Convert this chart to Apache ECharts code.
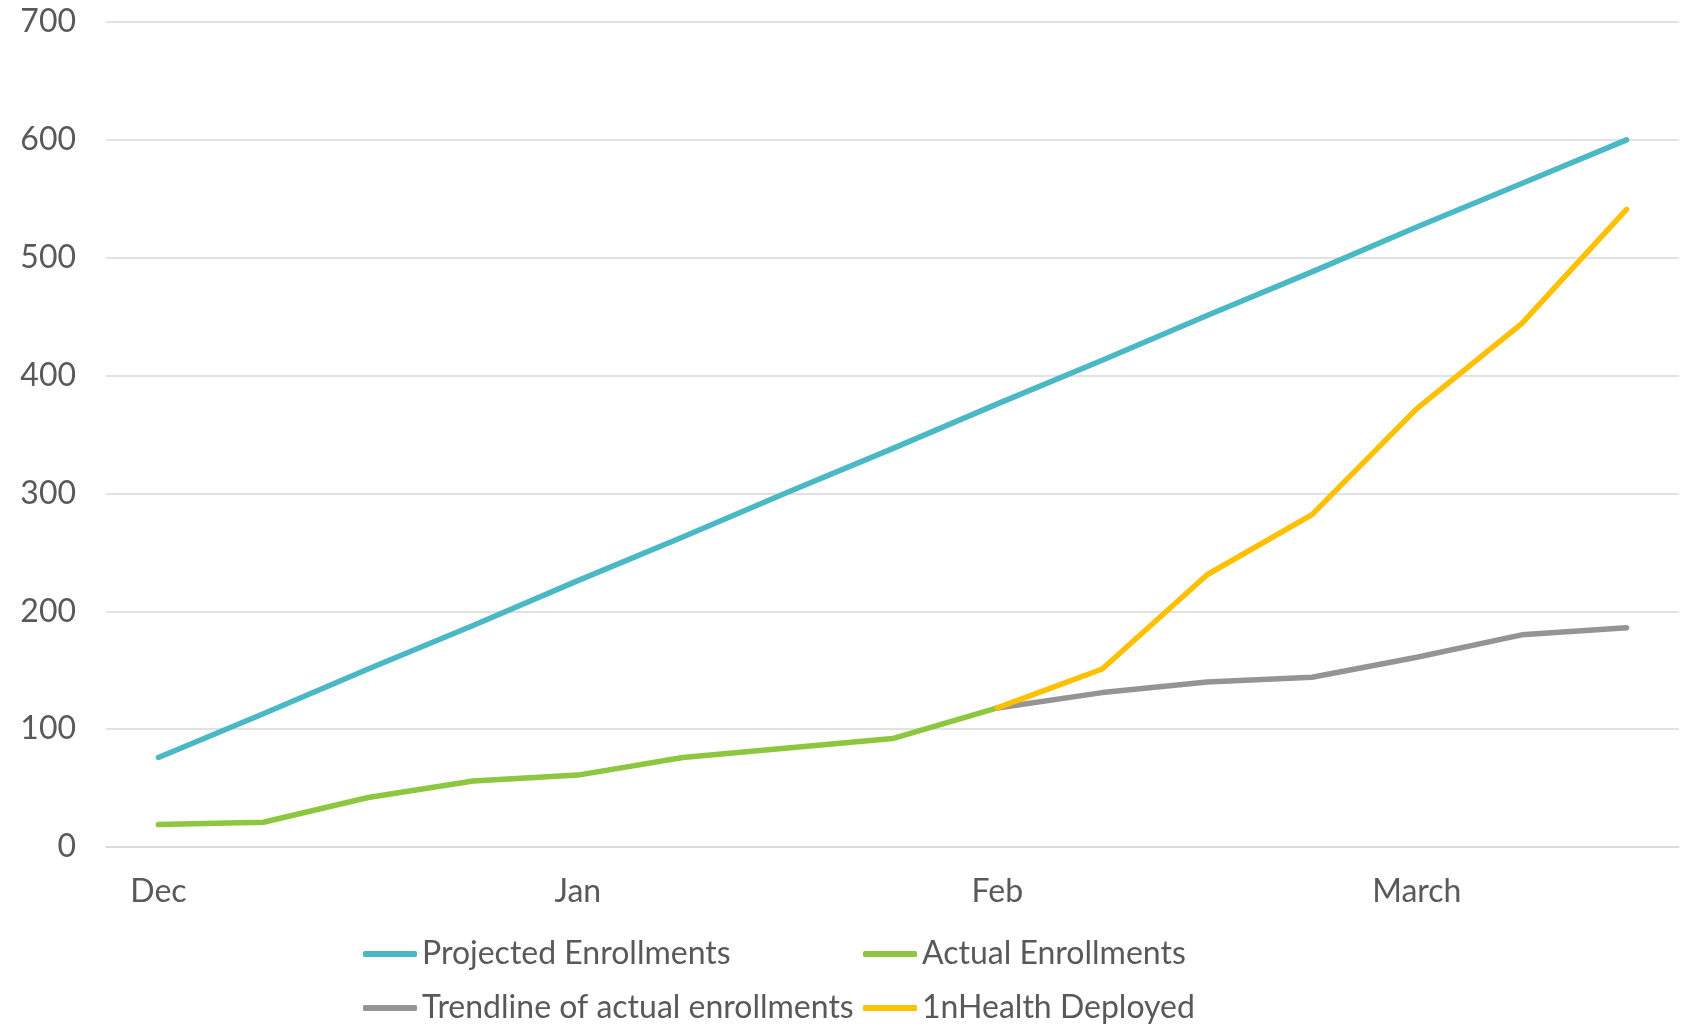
<!DOCTYPE html>
<html>
<head>
<meta charset="utf-8">
<script src="https://cdn.jsdelivr.net/npm/echarts@6/dist/echarts.min.js"></script>
<style>
html,body{margin:0;padding:0;background:#fff;}
#chart{width:1691px;height:1024px;}
</style>
</head>
<body>
<div id="chart"></div>
<script>
var categories = ['Dec','Dec w2','Dec w3','Dec w4','Jan','Jan w2','Jan w3','Jan w4','Feb','Feb w2','Feb w3','Feb w4','March','March w2','March w3'];
var projectedEnrollments = [76,113,151,188,226,263,301,338,376,413,451,488,526,563,600];
var actualEnrollments = [19,21,42,56,61,76,84,92,118,null,null,null,null,null,null];
var trendlineActual = [null,null,null,null,null,null,null,null,118,131,140,144,161,180,186];
var deployed1nHealth = [null,null,null,null,null,null,null,null,118,151,231,282,372,444,541];
var yTicks = [0,100,200,300,400,500,600,700];

var FONT = 'Lato';
var TXT = '#595959';
var FS = 32;

function lineSeries(name, data, color) {
  return {
    name: name, type: 'line', data: data, showSymbol: false, symbol: 'none',
    connectNulls: false, silent: true,
    lineStyle: { color: color, width: 5.5, cap: 'round', join: 'round' },
    itemStyle: { color: color }
  };
}

function legendBlock(left, names) {
  return {
    orient: 'vertical', left: left, top: 936, width: 500, height: 120, padding: 0, itemGap: 18,
    data: names,
    icon: 'roundRect', itemWidth: 54, itemHeight: 6,
    textStyle: { color: TXT, fontFamily: FONT, fontSize: FS, lineHeight: 36 },
    selectedMode: false
  };
}

var chart = echarts.init(document.getElementById('chart'), null, { renderer: 'canvas' });
chart.setOption({
  animation: false,
  backgroundColor: '#ffffff',
  textStyle: { fontFamily: FONT },
  grid: { left: 106, right: 12, top: 22, bottom: 177, containLabel: false },
  xAxis: {
    type: 'category', data: categories, boundaryGap: true,
    axisLine: { show: true, lineStyle: { color: '#D9D9D9', width: 1.5 } },
    axisTick: { show: false },
    axisLabel: { interval: 3, color: TXT, fontFamily: FONT, fontSize: FS, lineHeight: 32, margin: 29,
      formatter: function (v) { return v.split(' ')[0]; } },
    splitLine: { show: false }
  },
  yAxis: {
    type: 'value', min: yTicks[0], max: yTicks[yTicks.length - 1], interval: 100,
    axisLine: { show: false }, axisTick: { show: false },
    axisLabel: { color: TXT, fontFamily: FONT, fontSize: FS, margin: 30 },
    splitLine: { lineStyle: { color: '#D9D9D9', width: 1.5 } }
  },
  legend: [
    legendBlock(363, ['Projected Enrollments', 'Trendline of actual enrollments']),
    legendBlock(863, ['Actual Enrollments', '1nHealth Deployed'])
  ],
  series: [
    lineSeries('Projected Enrollments', projectedEnrollments, '#4BB8C5'),
    lineSeries('Actual Enrollments', actualEnrollments, '#8DC63F'),
    lineSeries('Trendline of actual enrollments', trendlineActual, '#949494'),
    lineSeries('1nHealth Deployed', deployed1nHealth, '#FFC000')
  ]
});
</script>
</body>
</html>
